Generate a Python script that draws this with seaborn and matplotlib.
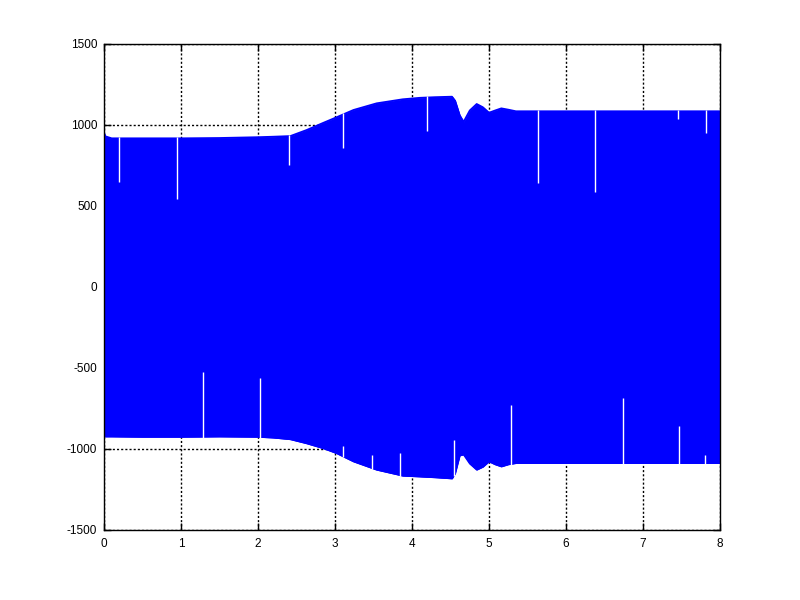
import numpy as np
import pandas as pd
import matplotlib
matplotlib.use("Agg")
import matplotlib.pyplot as plt
import seaborn as sns

# Envelope of the dense oscillating signal
t_env = [0.0, 0.02, 0.1, 0.5, 1.0, 1.5, 2.0, 2.2, 2.42, 2.63, 2.85, 3.02, 3.24,
         3.54, 3.88, 4.1, 4.3, 4.52, 4.56, 4.62, 4.67, 4.75, 4.84, 4.92, 5.0,
         5.08, 5.16, 5.25, 5.35, 6.0, 7.0, 8.0]
upper = [950, 930, 918, 918, 918, 920, 925, 928, 932, 969, 1014, 1048, 1093,
         1134, 1159, 1168, 1172, 1175, 1150, 1060, 1020, 1090, 1130, 1110, 1076,
         1090, 1103, 1095, 1085, 1085, 1085, 1085]
lower = [-920, -923, -923, -925, -925, -923, -925, -930, -940, -965, -996, -1026,
         -1077, -1128, -1165, -1170, -1175, -1182, -1150, -1040, -1034, -1090,
         -1128, -1110, -1077, -1095, -1108, -1095, -1087, -1087, -1087, -1087]

# Gaps in the drawn signal (where a cycle does not reach full amplitude)
gap_up_t = [0.2, 0.95, 2.4, 3.1, 4.2, 5.64, 6.38, 7.46, 7.82]
gap_up_v = [648, 543, 753, 858, 960, 642, 587, 1037, 953]
gap_lo_t = [1.29, 2.03, 3.1, 3.48, 3.85, 4.55, 5.29, 6.74, 7.47, 7.81]
gap_lo_v = [-524, -561, -980, -1036, -1026, -943, -727, -684, -857, -1036]

xticks = [0, 1, 2, 3, 4, 5, 6, 7, 8]
yticks = [-1500, -1000, -500, 0, 500, 1000, 1500]

sns.set_style("white")
plt.rcParams['font.family'] = ['Liberation Sans', 'DejaVu Sans']
plt.rcParams['axes.unicode_minus'] = False

fig = plt.figure(figsize=(8, 6), dpi=100)
ax = fig.add_axes([0.13, 0.1167, 0.77, 0.81])

blue = (0, 0, 1)
df = pd.DataFrame({"t": t_env, "upper": upper, "lower": lower})
ax.fill_between(df["t"], df["lower"], df["upper"], facecolor=blue, edgecolor=blue,
                linewidth=0.6, zorder=2)
sns.lineplot(data=df, x="t", y="upper", color=blue, linewidth=1.2, ax=ax, zorder=2.1)
sns.lineplot(data=df, x="t", y="lower", color=blue, linewidth=1.2, ax=ax, zorder=2.1)

up_env = np.interp(gap_up_t, t_env, upper)
lo_env = np.interp(gap_lo_t, t_env, lower)
ax.vlines(gap_up_t, gap_up_v, np.array(up_env) + 8, color="white", linewidth=1.0, zorder=3)
ax.vlines(gap_lo_t, np.array(lo_env) - 8, gap_lo_v, color="white", linewidth=1.0, zorder=3)

ax.set_xlim(0, 8)
ax.set_ylim(-1500, 1500)
ax.set_xticks(xticks)
ax.set_yticks(yticks)
ax.set_xlabel("")
ax.set_ylabel("")
ax.grid(True, color="black", linestyle=(0, (1.5, 1.5)), linewidth=1.0)
ax.set_axisbelow(True)
ax.tick_params(direction="in", length=5, width=1, labelsize=8.5, colors="black",
               top=True, right=True, bottom=True, left=True)
ax.tick_params(axis="x", pad=6)
ax.tick_params(axis="y", pad=5)
for s in ax.spines.values():
    s.set_visible(True)
    s.set_color("black")
    s.set_linewidth(1.0)

fig.savefig("out.png", dpi=100, facecolor="white")
